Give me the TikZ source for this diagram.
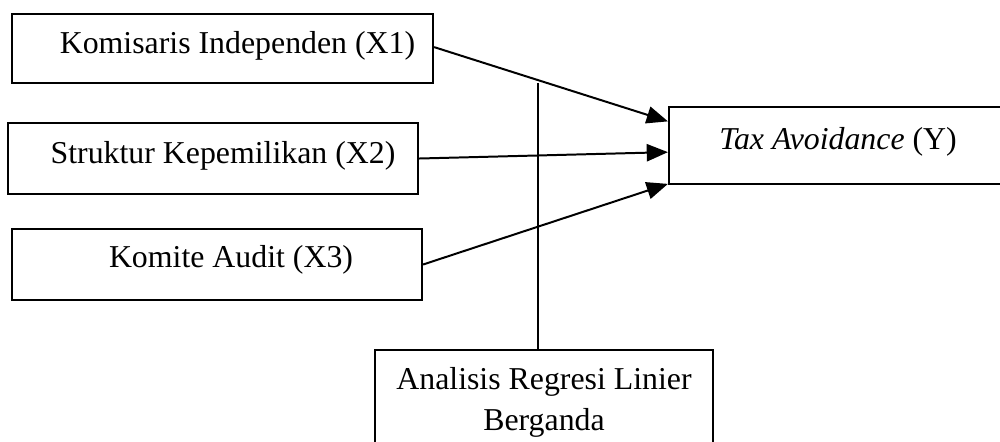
\documentclass[tikz,border=0pt]{standalone}
\usepackage{fontspec}
\setmainfont{Liberation Serif}
\usetikzlibrary{arrows.meta,fit,calc}
\begin{document}
\begin{tikzpicture}[x=0.377pt,y=-0.377pt,
  box/.style={draw=black,line width=0.8pt,inner sep=0pt,rectangle},
  lbl/.style={anchor=base,inner sep=0pt,font=\fontsize{12pt}{15pt}\selectfont},
  arr/.style={line width=0.75pt,-{Triangle[length=8pt,width=6.5pt]}},
  ln/.style={line width=0.75pt}]
\clip (0,0) rectangle (1000,441);
% boxes
\node[box,fit={(12,14) (433,83)}] (x1) {};
\node[box,fit={(8,123) (418,194)}] (x2) {};
\node[box,fit={(12,229) (422,300)}] (x3) {};
\node[box,fit={(669,107) (1010,184)}] (ty) {};
\node[box,fit={(375,350) (713,460)}] (ana) {};
% labels
\node[lbl] (t1) at (237.5,53) {Komisaris Independen (X1)};
\node[lbl] (t2) at (223,163) {Struktur Kepemilikan (X2)};
\node[lbl] (t3) at (231,267) {Komite Audit (X3)};
\node[lbl] (t4) at (838,149) {\textit{Tax Avoidance} (Y)};
\node[lbl] (t5) at (544,389) {Analisis Regresi Linier};
\node[lbl] (t6) at (544,430) {Berganda};
% connectors
\draw[arr] ($(x1.north east)!0.48!(x1.south east)$) -- ($(ty.north west)!0.195!(ty.south west)$);
\draw[arr] (x2.east) -- ($(ty.north west)!0.584!(ty.south west)$);
\draw[arr] (x3.east) -- ($(ty.north west)!0.985!(ty.south west)$);
\coordinate (vtop) at (538,83);
\draw[ln] (vtop) -- (vtop |- ana.north);
\end{tikzpicture}
\end{document}
